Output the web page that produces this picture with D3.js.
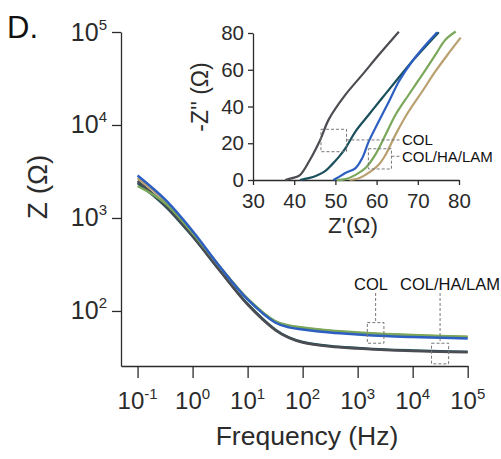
<!DOCTYPE html>
<html>
<head>
<meta charset="utf-8">
<script src="https://cdn.jsdelivr.net/npm/d3@7"></script>
<style>
  html, body { margin: 0; padding: 0; background: #fff; }
  svg { display: block; font-family: "Liberation Sans", Arial, Helvetica, sans-serif; }
</style>
</head>
<body>
<svg id="chart" width="501" height="459"></svg>
<script>
// ---------- Bode |Z| data (main plot) ----------
const freqs     = [0.1, 0.316, 1, 3.16, 10, 31.6, 56.2, 100, 316, 1000, 3162, 10000, 31623, 100000];
const impGray   = [2500, 1380, 640, 269, 117, 62.5, 51.3, 45.8, 41.5, 39.5, 38.1, 37.2, 36.4, 36.0];
const impTeal   = [2377, 1346, 632, 269, 119, 63.2, 51.9, 46.4, 42.0, 40.0, 38.5, 37.6, 36.9, 36.4];
const impBlue   = [2864, 1581, 724, 297, 133, 75.2, 66.6, 63.3, 58.7, 55.9, 53.8, 52.5, 51.5, 50.6];
const impTan    = [2692, 1524, 706, 297, 134.5, 77, 69, 65.6, 61, 58, 55.9, 54.5, 53.5, 52.5];
const impGreen  = [2208, 1449, 690, 297, 136, 78, 69.8, 66.5, 61.6, 58.7, 56.6, 55.2, 53.8, 52.8];

const freqTickExps = [-1, 0, 1, 2, 3, 4, 5];
const impTickExps  = [2, 3, 4, 5];

// ---------- Nyquist data (inset) ----------
const reGray  = [37.8, 39.5, 41.4, 43.8, 46.3, 48.4, 52.4, 56.5, 60.5, 65.4];
const imGray  = [0, 1, 2.7, 10.9, 21.8, 33, 46.3, 57.2, 68, 80.7];
const reTeal  = [41.4, 43.5, 45.5, 47.5, 49.2, 51, 52.5, 54.9, 58.1, 61.3, 64.6, 68.6, 71.9, 75.1];
const imTeal  = [0, 1, 2.5, 4.8, 8.5, 13, 17.5, 26.5, 35.5, 44.5, 53.6, 64.5, 72.7, 80.4];
const reBlue  = [49.5, 50.5, 52.4, 54.9, 56.5, 58.1, 60.5, 63, 65.4, 68.6, 71.9, 74.7];
const imBlue  = [0, 1.2, 3.8, 6.5, 11.9, 21, 31.8, 42.7, 53.6, 64.5, 73.5, 80.4];
const reGreen = [50.3, 52.5, 54.9, 57.3, 59.7, 62.2, 64.6, 67.8, 71.1, 74.3, 76.7, 79.2];
const imGreen = [0, 0.5, 2.8, 6.5, 13.8, 24.7, 35.5, 46.4, 57.3, 68.2, 76.3, 80.8];
const reTan   = [53.5, 55.5, 57.3, 60.5, 62.2, 64.6, 67.8, 71.1, 74.3, 77.5, 80.4];
const imTan   = [0, 0.8, 2.8, 8.3, 13.8, 24.7, 37.4, 48.3, 59.2, 69, 77.5];
const insetXTicks = [30, 40, 50, 60, 70, 80];
const insetYTicks = [0, 20, 40, 60, 80];

// annotation boxes (data space)
const mainBoxes = [
  { label: "COL",        f0: 1500,  f1: 3000,  z0: 45, z1: 75 },
  { label: "COL/HA/LAM", f0: 22000, f1: 45000, z0: 27, z1: 45 }
];
const insetBoxes = [
  { label: "COL",        r0: 46.5, r1: 52.7, i0: 15.4, i1: 27.6, ly: 21.8 },
  { label: "COL/HA/LAM", r0: 58.0, r1: 63.6, i0: 6.0,  i1: 17.0, ly: 12.9 }
];

const colors = {
  gray: "#4b4d52", teal: "#1a4f5b", blue: "#2d5fc2", green: "#7aa75a", tan: "#b9a070"
};

const svg = d3.select("#chart");
const ink = "#2b2b2b";
const FONT = "'Liberation Sans', Arial, Helvetica, sans-serif";

// ---------- main scales ----------
const x = d3.scaleLog().domain([0.05, 1e5]).range([121, 467.7]);
const y = d3.scaleLog().domain([25.6, 1e5]).range([366, 32]);

// y axis
const gy = svg.append("g").attr("transform", "translate(121,0)")
  .call(d3.axisLeft(y).tickValues(impTickExps.map(e => Math.pow(10, e)))
    .tickSize(9).tickSizeOuter(0).tickFormat(""));
gy.selectAll("path,line").attr("stroke", ink).attr("stroke-width", 1.3);
impTickExps.forEach(e => {
  const t = svg.append("text").attr("x", 107).attr("y", y(Math.pow(10, e)) + 8.5)
    .attr("text-anchor", "end").attr("fill", ink).attr("font-size", 25);
  t.append("tspan").text("10");
  t.append("tspan").attr("dy", -11).attr("font-size", 15).text(String(e));
});

// x axis
const gx = svg.append("g").attr("transform", "translate(0,366)")
  .call(d3.axisBottom(x).tickValues(freqTickExps.map(e => Math.pow(10, e)))
    .tickSize(12).tickSizeOuter(0).tickFormat(""));
gx.selectAll("path,line").attr("stroke", ink).attr("stroke-width", 1.3);
freqTickExps.forEach(e => {
  const t = svg.append("text").attr("x", x(Math.pow(10, e))).attr("y", 409)
    .attr("text-anchor", "middle").attr("fill", ink).attr("font-size", 24);
  t.append("tspan").text("10");
  t.append("tspan").attr("dy", -10.5).attr("font-size", 15).text(e < 0 ? "-" + Math.abs(e) : String(e));
});

// titles
svg.append("text").attr("x", 307).attr("y", 445).attr("text-anchor", "middle")
  .attr("font-size", 26.5).attr("fill", ink).text("Frequency (Hz)");
svg.append("text").attr("transform", "translate(47,187) rotate(-90)").attr("text-anchor", "middle")
  .attr("font-size", 28).attr("fill", ink).text("Z (Ω)");
svg.append("text").attr("x", 7).attr("y", 38).attr("font-size", 31).attr("fill", "#111").text("D.");

// main curves
const mainLine = d3.line().x(d => x(d[0])).y(d => y(d[1])).curve(d3.curveCatmullRom.alpha(0.5));
const mainSeries = [
  [impTeal, colors.teal], [impGray, colors.gray],
  [impTan, colors.tan], [impGreen, colors.green], [impBlue, colors.blue]
];
mainSeries.forEach(([vals, c]) => {
  svg.append("path").datum(freqs.map((f, i) => [f, vals[i]]))
    .attr("d", mainLine).attr("fill", "none").attr("stroke", c).attr("stroke-width", 2.5);
});

// main annotations
const dashC = "#777";
mainBoxes.forEach((b, i) => {
  const bx0 = x(b.f0), bx1 = x(b.f1), by0 = y(b.z1), by1 = y(b.z0);
  svg.append("rect").attr("x", bx0).attr("y", by0).attr("width", bx1 - bx0).attr("height", by1 - by0)
    .attr("fill", "none").attr("stroke", dashC).attr("stroke-width", 1).attr("stroke-dasharray", "3,2");
  const cx = (bx0 + bx1) / 2;
  svg.append("line").attr("x1", cx).attr("x2", cx).attr("y1", 293).attr("y2", by0)
    .attr("stroke", dashC).attr("stroke-width", 1).attr("stroke-dasharray", "3,2");
});
svg.append("text").attr("x", 371).attr("y", 290).attr("text-anchor", "middle")
  .attr("font-size", 16.5).attr("fill", "#111").text(mainBoxes[0].label);
svg.append("text").attr("x", 500).attr("y", 290).attr("text-anchor", "end")
  .attr("font-size", 16.5).attr("fill", "#111").text(mainBoxes[1].label);

// ---------- inset ----------
const xi = d3.scaleLinear().domain([30, 80]).range([253, 459]);
const yi = d3.scaleLinear().domain([0, 80]).range([180, 33]);

const giy = svg.append("g").attr("transform", "translate(253,0)")
  .call(d3.axisLeft(yi).tickValues(insetYTicks).tickSize(5).tickSizeOuter(0).tickPadding(4));
const gix = svg.append("g").attr("transform", "translate(0,180)")
  .call(d3.axisBottom(xi).tickValues(insetXTicks).tickSize(5).tickSizeOuter(0).tickPadding(8));
[giy, gix].forEach(g => {
  g.selectAll("path,line").attr("stroke", ink).attr("stroke-width", 1.3);
  g.selectAll("text").attr("font-size", 20.5).attr("fill", ink).attr("font-family", FONT);
});

svg.append("text").attr("x", 353).attr("y", 233).attr("text-anchor", "middle")
  .attr("font-size", 22.5).attr("fill", ink).text("Z'(Ω)");
svg.append("text").attr("transform", "translate(208,97) rotate(-90)").attr("text-anchor", "middle")
  .attr("font-size", 23).attr("fill", ink).text("-Z'' (Ω)");

const insetLine = d3.line().x(d => xi(d[0])).y(d => yi(d[1])).curve(d3.curveCatmullRom.alpha(0.5));
const insetSeries = [
  [reGray, imGray, colors.gray], [reTeal, imTeal, colors.teal], [reBlue, imBlue, colors.blue],
  [reGreen, imGreen, colors.green], [reTan, imTan, colors.tan]
];
insetSeries.forEach(([re, im, c]) => {
  svg.append("path").datum(re.map((r, i) => [r, im[i]]))
    .attr("d", insetLine).attr("fill", "none").attr("stroke", c).attr("stroke-width", 2.2);
});

insetBoxes.forEach(b => {
  const bx0 = xi(b.r0), bx1 = xi(b.r1), by0 = yi(b.i1), by1 = yi(b.i0);
  svg.append("rect").attr("x", bx0).attr("y", by0).attr("width", bx1 - bx0).attr("height", by1 - by0)
    .attr("fill", "none").attr("stroke", dashC).attr("stroke-width", 1).attr("stroke-dasharray", "3,2");
  svg.append("line").attr("x1", bx1).attr("x2", 400).attr("y1", yi(b.ly)).attr("y2", yi(b.ly))
    .attr("stroke", dashC).attr("stroke-width", 1).attr("stroke-dasharray", "3,2");
  svg.append("text").attr("x", 402).attr("y", yi(b.ly) + 5.3)
    .attr("font-size", 15).attr("fill", "#111").text(b.label);
});
</script>
</body>
</html>
